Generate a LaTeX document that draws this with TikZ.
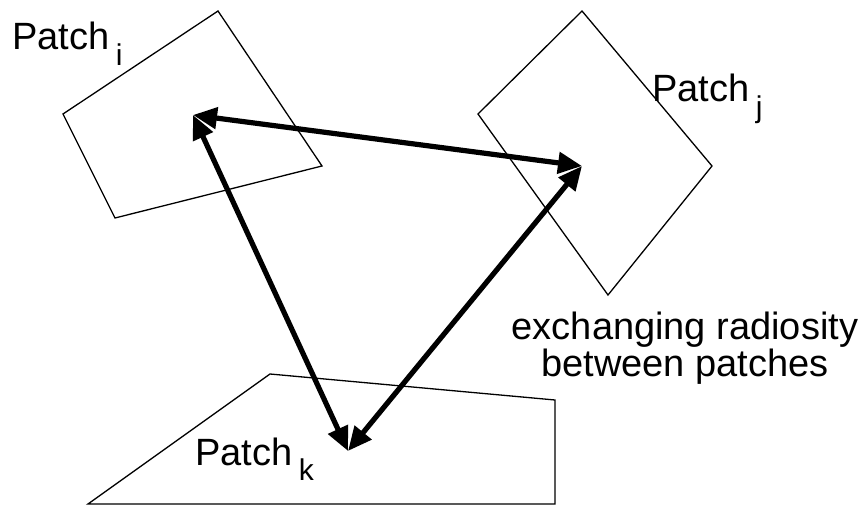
\documentclass[tikz,border=0pt]{standalone}
\usepackage{fontspec}
\setmainfont{Liberation Sans}
\usetikzlibrary{arrows.meta}
% patch name with a lowered index
\newcommand{\patchname}[1]{Patch\,\raisebox{-0.42em}{\fontsize{15}{15}\selectfont #1}}
\begin{document}
\begin{tikzpicture}[x=0.5pt,y=-0.5pt,
  patch/.style={draw,line width=0.65pt,line join=miter},
  xchg/.style={line width=2.6pt,{Triangle[length=12pt,width=10.5pt]}-{Triangle[length=12pt,width=10.5pt]}},
  lbl/.style={inner sep=0pt,font=\fontsize{19}{17}\selectfont}]
\useasboundingbox (0,0) rectangle (866,507);
% the three patches
\draw[patch] (63,114) -- (218,11) -- (322,166) -- (115,218) -- cycle;
\draw[patch] (478,114) -- (582,11) -- (712,166) -- (608,295) -- cycle;
\draw[patch] (88,504) -- (270,374) -- (555,400) -- (555,504) -- cycle;
\node[lbl,anchor=base west] (pi) at (12,50) {\patchname{i}};
\node[lbl,anchor=base west] (pj) at (652,102) {\patchname{j}};
\node[lbl,anchor=base west] (pk) at (195,465) {\patchname{k}};
% points where radiosity is exchanged
\coordinate (ci) at (193,115);
\coordinate (cj) at (582,166);
\coordinate (ck) at (348,451);
\draw[xchg] (ci) -- (cj);
\draw[xchg] (ci) -- (ck);
\draw[xchg] (cj) -- (ck);
\node[lbl,align=center] (note) at (685,348) {exchanging radiosity\\between patches};
\end{tikzpicture}
\end{document}
